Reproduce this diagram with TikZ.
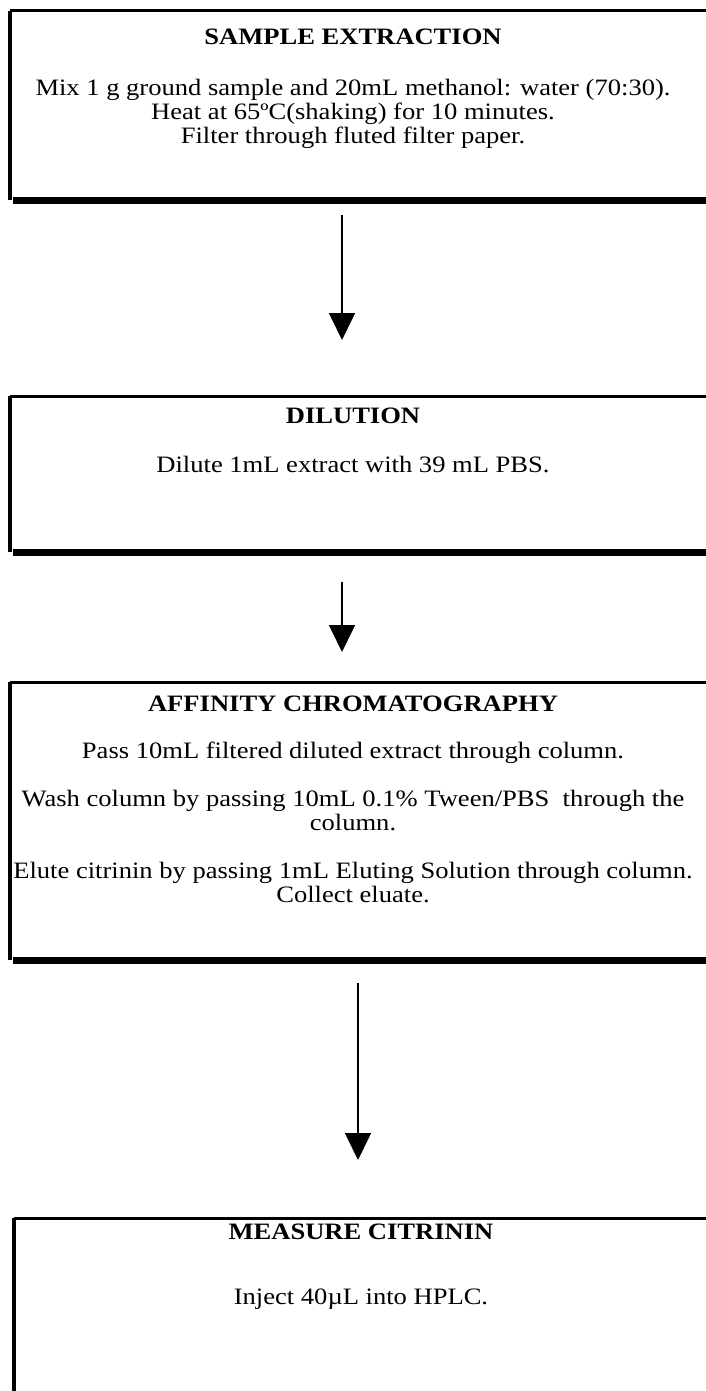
\documentclass[tikz,border=0pt]{standalone}
\usepackage{fontspec}
\setmainfont{Liberation Serif}
\newfontfamily\stepfont[FakeStretch=1.13]{Liberation Serif}
\usetikzlibrary{arrows.meta}
\tikzset{
  frametop/.style={line width=3pt},
  frameleft/.style={line width=4pt},
  framebottom/.style={line width=7pt},
  heading/.style={font=\stepfont\fontsize{23.5}{24}\selectfont\bfseries, anchor=base, inner sep=0pt},
  bodytext/.style={font=\stepfont\fontsize{23.5}{24}\selectfont, align=center, anchor=north, inner sep=0pt},
  stepframe/.style={draw=none, inner sep=0pt, anchor=north west},
  flow/.style={line width=1.6pt, -{Triangle[length=27pt,width=26pt]}},
}
\begin{document}
\begin{tikzpicture}[x=1pt,y=-1pt]
  \useasboundingbox (0,0) rectangle (706,1391);
  \clip (0,0) rectangle (706,1391);

  % step frames (open to the right edge)
  \node[stepframe, minimum width=710pt, minimum height=189pt] (b1) at (10,11) {};
  \node[stepframe, minimum width=710pt, minimum height=156pt] (b2) at (10,396) {};
  \node[stepframe, minimum width=710pt, minimum height=278pt] (b3) at (10,682) {};
  \node[stepframe, minimum width=710pt, minimum height=200pt] (b4) at (14,1218) {};

  \foreach \b in {b1,b2,b3} {
    \draw[frametop] (\b.north west) -- (\b.north east);
    \draw[frameleft] (\b.north west) -- (\b.south west);
    \draw[framebottom] ([xshift=3pt]\b.south west) -- (\b.south east);
  }
  \draw[frametop] (b4.north west) -- (b4.north east);
  \draw[frameleft] (b4.north west) -- (b4.south west);

  % texts
  \node[heading] (t1) at (353,45) {SAMPLE EXTRACTION};
  \node[bodytext] (s1) at (353,79) {Mix 1 g ground sample and 20mL methanol: water (70:30).\\
    Heat at 65ºC(shaking) for 10 minutes.\\
    Filter through fluted filter paper.};

  \node[heading] (t2) at (353,423) {DILUTION};
  \node[bodytext] (s2) at (353,456) {Dilute 1mL extract with 39 mL PBS.};

  \node[heading] (t3) at (353,711) {AFFINITY CHROMATOGRAPHY};
  \node[bodytext] (s3) at (353,742) {Pass 10mL filtered diluted extract through column.\\[24pt]
    Wash column by passing 10mL 0.1\% Tween/PBS\ \ through the\\
    column.\\[24pt]
    Elute citrinin by passing 1mL Eluting Solution through column.\\
    Collect eluate.};

  \node[heading] (t4) at (361,1239) {MEASURE CITRININ};
  \node[bodytext] (s4) at (361,1289) {Inject 40µL into HPLC.};

  % connectors between steps
  \coordinate (a1s) at (342,215);
  \coordinate (a1e) at (342,340);
  \coordinate (a2s) at (342,582);
  \coordinate (a2e) at (342,652);
  \coordinate (a3s) at (358,983);
  \coordinate (a3e) at (358,1160);
  \draw[flow] (a1s) -- (a1e);
  \draw[flow] (a2s) -- (a2e);
  \draw[flow] (a3s) -- (a3e);
\end{tikzpicture}
\end{document}
